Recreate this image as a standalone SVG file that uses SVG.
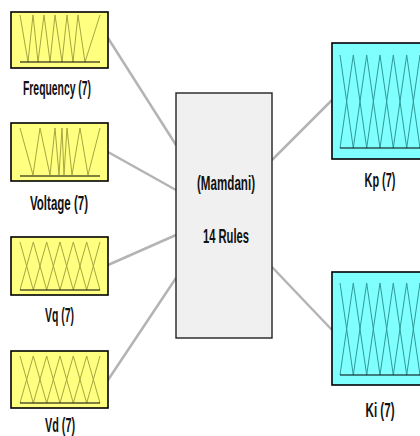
<svg xmlns="http://www.w3.org/2000/svg" width="420" height="436" viewBox="0 0 420 436">
<style>
.in{fill:#ffff80;stroke:#000;stroke-width:1.6}
.out{fill:#80ffff;stroke:#000;stroke-width:1.6}
.sys{fill:#f0f0f0;stroke:#222;stroke-width:1.4}
.mfi{fill:none;stroke:#a6a640;stroke-width:1}
.mfo{fill:none;stroke:#2f9a9a;stroke-width:1}
.base{stroke:#000;stroke-width:1.2}
.conn{stroke:#b4b4b4;stroke-width:2.5;fill:none}
text{font-family:"Liberation Sans Narrow","Liberation Sans",Arial,sans-serif;font-weight:bold;font-size:20px;fill:#111;text-anchor:middle}
</style>
<rect width="420" height="436" fill="#fff"/>
<g id="connectors">
<line class="conn" x1="108" y1="38" x2="176" y2="145"/>
<line class="conn" x1="108" y1="152" x2="176" y2="190"/>
<line class="conn" x1="108" y1="265" x2="176" y2="235"/>
<line class="conn" x1="108" y1="380" x2="176" y2="278"/>
<line class="conn" x1="272" y1="160" x2="332" y2="100"/>
<line class="conn" x1="272" y1="267" x2="332" y2="330"/>
</g>
<g id="frequency">
<rect class="in" x="11" y="12" width="97" height="56"/>
<polyline class="mfi" points="20,15 28,62 33,15 38,62 44,15 50,62 55,15 62,62 67,15 73,62 78,15 85,62 100,15"/>
<line class="base" x1="20" y1="62" x2="100" y2="62"/>
<text x="57" y="95" textLength="68" lengthAdjust="spacingAndGlyphs">Frequency (7)</text>
</g>
<g id="voltage">
<rect class="in" x="11" y="123" width="97" height="58"/>
<polyline class="mfi" points="20,128 33,175 40,128 50,175 55,128 59,175 62,128 64,175 67,128 72,175 80,128 88,175 100,128"/>
<line class="base" x1="20" y1="176" x2="100" y2="176"/>
<text x="59" y="210" textLength="58" lengthAdjust="spacingAndGlyphs">Voltage (7)</text>
</g>
<g id="vq">
<rect class="in" x="11" y="237" width="97" height="58"/>
<polyline class="mfi" points="20,242 33.3,290 46.7,242 60,290 73.3,242 86.7,290 100,242"/>
<polyline class="mfi" points="20,290 33.3,242 46.7,290 60,242 73.3,290 86.7,242 100,290"/>
<line class="base" x1="20" y1="290" x2="100" y2="290"/>
<text x="59.5" y="322" textLength="29" lengthAdjust="spacingAndGlyphs">Vq (7)</text>
</g>
<g id="vd">
<rect class="in" x="11" y="351" width="97" height="57"/>
<polyline class="mfi" points="20,356 33.3,403 46.7,356 60,403 73.3,356 86.7,403 100,356"/>
<polyline class="mfi" points="20,403 33.3,356 46.7,403 60,356 73.3,403 86.7,356 100,403"/>
<line class="base" x1="20" y1="403" x2="100" y2="403"/>
<text x="60" y="432" textLength="30" lengthAdjust="spacingAndGlyphs">Vd (7)</text>
</g>
<g id="mamdani">
<rect class="sys" x="176" y="93" width="96" height="245"/>
<text x="226" y="190" textLength="58" lengthAdjust="spacingAndGlyphs">(Mamdani)</text>
<text x="226" y="243" textLength="46" lengthAdjust="spacingAndGlyphs">14 Rules</text>
</g>
<g id="kp">
<rect class="out" x="332" y="43" width="100" height="116"/>
<polyline class="mfo" points="340,55 353.3,148 366.7,55 380,148 393.3,55 406.7,148 420,55 433.3,148"/>
<polyline class="mfo" points="340,148 353.3,55 366.7,148 380,55 393.3,148 406.7,55 420,148 433.3,55"/>
<line class="base" x1="340" y1="148" x2="430" y2="148"/>
<text x="380" y="187" textLength="31" lengthAdjust="spacingAndGlyphs">Kp (7)</text>
</g>
<g id="ki">
<rect class="out" x="332" y="272" width="100" height="113"/>
<polyline class="mfo" points="340,283 353.3,375 366.7,283 380,375 393.3,283 406.7,375 420,283 433.3,375"/>
<polyline class="mfo" points="340,375 353.3,283 366.7,375 380,283 393.3,375 406.7,283 420,375 433.3,283"/>
<line class="base" x1="340" y1="375" x2="430" y2="375"/>
<text x="380" y="417" textLength="29" lengthAdjust="spacingAndGlyphs">Ki (7)</text>
</g>
</svg>
